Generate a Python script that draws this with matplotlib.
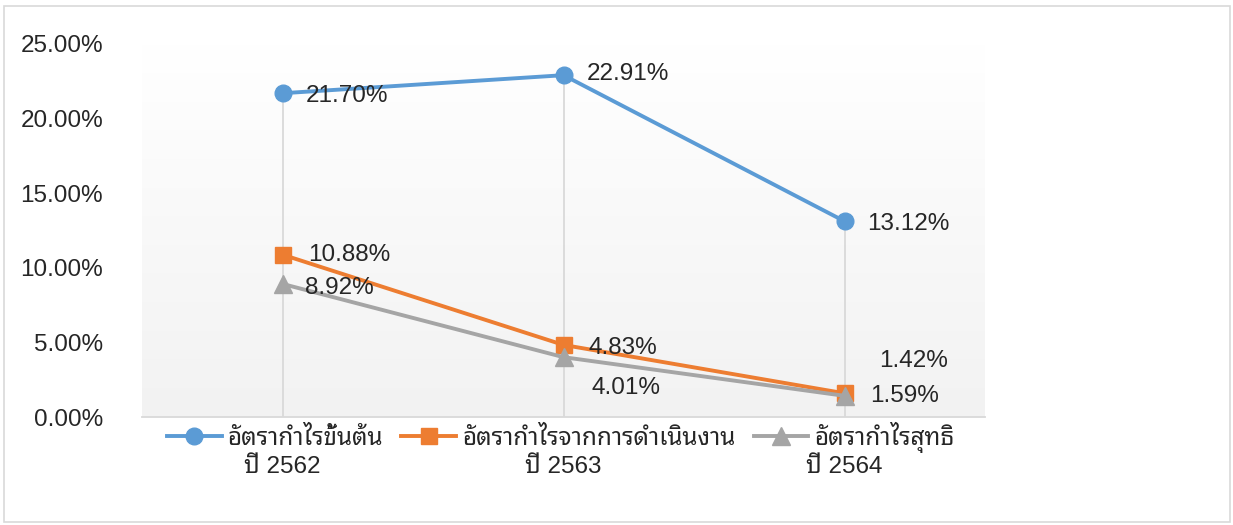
import matplotlib
matplotlib.use("Agg")
import matplotlib.pyplot as plt
import numpy as np
from matplotlib.patches import Rectangle
from matplotlib.colors import LinearSegmentedColormap

# data
years = ["ปี 2562", "ปี 2563", "ปี 2564"]
gross = [21.70, 22.91, 13.12]
operating = [10.88, 4.83, 1.59]
net = [8.92, 4.01, 1.42]
series_names = ["อัตรากำไรขั้นต้น", "อัตรากำไรจากการดำเนินงาน", "อัตรากำไรสุทธิ"]

fonts = ["Liberation Sans", "Noto Sans Thai Looped", "DejaVu Sans"]
plt.rcParams["font.family"] = fonts

W, H = 1233, 525
fig = plt.figure(figsize=(W / 100, H / 100), dpi=100)
# outer chart border
fig.patches.append(Rectangle((4 / W, 3 / H), 1226 / W, 516 / H, transform=fig.transFigure,
                             fill=False, edgecolor="#d9d9d9", lw=1.2))

ax = fig.add_axes([142 / W, 1 - 417 / H, 843 / W, 373 / H])
x = np.arange(len(years))
ax.set_xlim(-0.5, 2.5)

# gradient background
grad = np.linspace(1, 0, 256).reshape(-1, 1)
cmap = LinearSegmentedColormap.from_list("g", ["#f2f2f2", "#ffffff"])
ax.imshow(grad, extent=[-0.5, 2.5, 0, 25], aspect="auto", cmap=cmap,
          vmin=0, vmax=1, zorder=0, origin="upper")
ax.set_ylim(0, 25)

# drop lines
tops = [max(a, b, c) for a, b, c in zip(gross, operating, net)]
ax.vlines(x, 0, tops, color="#d9d9d9", lw=1.3, zorder=1)

l1, = ax.plot(x, gross, color="#5b9bd5", lw=2.8, marker="o", ms=12, zorder=3)
l2, = ax.plot(x, operating, color="#ed7d31", lw=2.8, marker="s", ms=12, zorder=3)
l3, = ax.plot(x, net, color="#a5a5a5", lw=2.8, marker="^", ms=13, zorder=4)

fs = 17.5
tc = "#262626"
def lab(xi, yi, dx, dy):
    ax.annotate(f"{yi:.2f}%", (xi, yi), xytext=(dx, dy), textcoords="offset pixels",
                ha="left", va="center", fontsize=fs, color=tc, zorder=5)

for i in range(3):
    lab(x[i], gross[i], 23, -3 if i != 1 else 1)
lab(x[0], operating[0], 26, 0)
lab(x[1], operating[1], 25, -3)
lab(x[2], operating[2], 26, -3)
lab(x[0], net[0], 23, -4)
lab(x[1], net[1], 28, -31)
lab(x[2], net[2], 35, 35)

for s in ["top", "right", "left"]:
    ax.spines[s].set_visible(False)
ax.spines["bottom"].set_color("#d9d9d9")
ax.spines["bottom"].set_linewidth(1.3)

ax.set_yticks(np.arange(0, 26, 5))
ax.set_yticklabels([f"{v:.2f}%" for v in np.arange(0, 26, 5)])
ax.tick_params(axis="y", length=0, pad=28, labelsize=fs, labelcolor=tc)
ax.set_xticks(x)
ax.set_xticklabels(years)
ax.tick_params(axis="x", length=0, pad=28, labelsize=fs, labelcolor=tc)

leg = fig.legend([l1, l2, l3], series_names, ncol=3, loc="center left",
                 bbox_to_anchor=(167 / W, 1 - 437 / H), frameon=False,
                 fontsize=fs, handlelength=2.25, handletextpad=0.25, columnspacing=0.75,
                 borderaxespad=0, borderpad=0)
for t in leg.get_texts():
    t.set_color(tc)

fig.savefig("out.png", dpi=100)
